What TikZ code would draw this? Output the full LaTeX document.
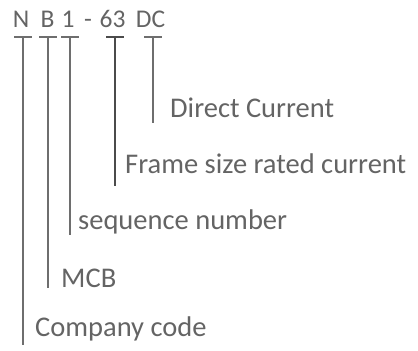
\documentclass[tikz,border=0pt]{standalone}
\usepackage{fontspec}
\setmainfont{Carlito}
\definecolor{txtgray}{RGB}{100,100,100}
\definecolor{linegray}{RGB}{110,110,110}
\definecolor{linedark}{RGB}{75,75,75}
\tikzset{
  code/.style={inner sep=0pt, anchor=base, text=txtgray, font=\fontsize{25.5}{30}\selectfont},
  lbl/.style={inner sep=0pt, anchor=base west, text=txtgray, font=\fontsize{28.5}{34}\selectfont},
  tee/.style={draw=linegray, line width=1.1pt},
}
\begin{document}
\begin{tikzpicture}[x=1pt,y=1pt]
\useasboundingbox (0,0) rectangle (418,351);
% code tokens
\node[code] (tN) at (21,323) {N};
\node[code] (tB) at (47.5,323) {B};
\node[code] (t1) at (68,323) {1};
\node[code] (tD) at (88,323) {-};
\node[code] (t63) at (112.5,323) {63};
\node[code] (tDC) at (150.5,323) {DC};
% labels
\node[lbl] (lCo) at (35,14) {Company code};
\node[lbl] (lMCB) at (61,63) {MCB};
\node[lbl] (lSeq) at (78,121) {sequence number};
\node[lbl] (lFr) at (125,177) {Frame size rated current};
\node[lbl] (lDC) at (170,233) {Direct Current};
% tee coordinates
\coordinate (aN) at (23,314);   \coordinate (eN) at (23,6);
\coordinate (aB) at (48,314);   \coordinate (eB) at (48,63);
\coordinate (a1) at (70,314);   \coordinate (e1) at (70,116);
\coordinate (a63) at (115,314); \coordinate (e63) at (115,165);
\coordinate (aDC) at (153,314); \coordinate (eDC) at (153,228);
\foreach \k in {N,B,1,DC}{
  \draw[tee] ([xshift=-9pt]a\k) -- ([xshift=9pt]a\k);
  \draw[tee] (a\k) -- (e\k);
}
\draw[tee, draw=linedark] ([xshift=-9pt]a63) -- ([xshift=9pt]a63);
\draw[tee, draw=linedark] (a63) -- (e63);
\end{tikzpicture}
\end{document}
